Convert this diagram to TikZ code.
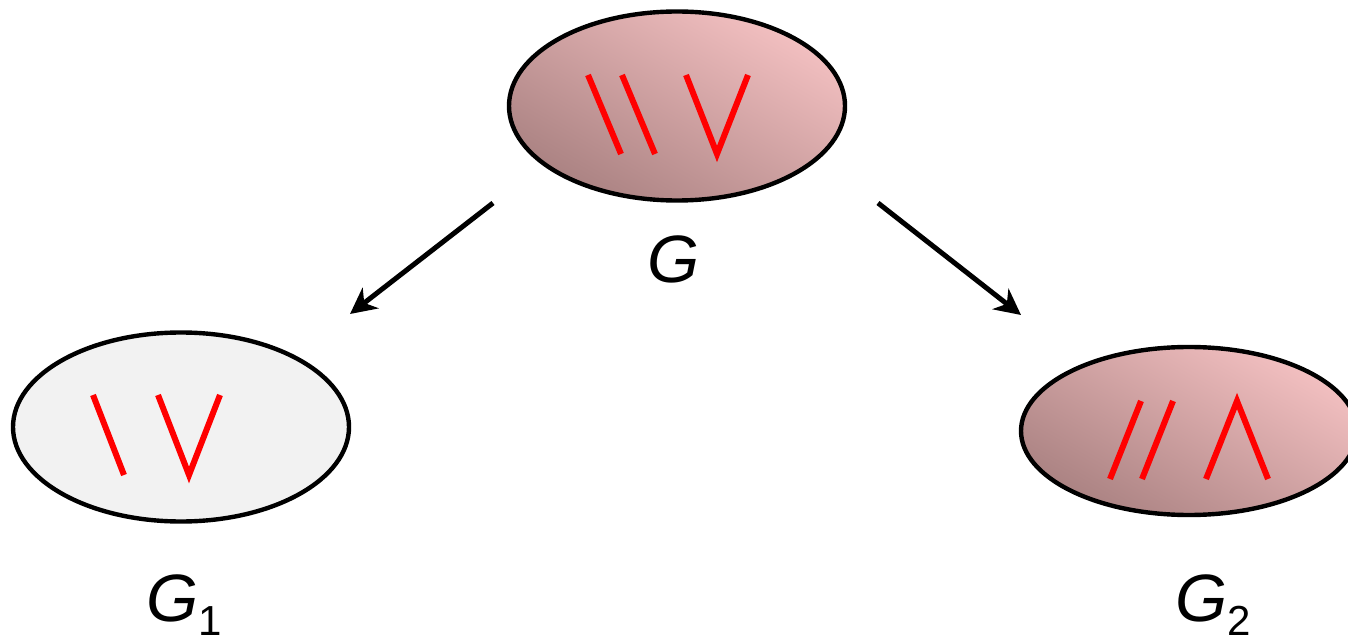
\documentclass[tikz,border=0pt]{standalone}
\usepackage{fontspec}
\setmainfont{Liberation Sans}
\usetikzlibrary{shapes.geometric,arrows.meta}
\definecolor{rosaclar}{RGB}{243,192,193}
\definecolor{rosafosc}{RGB}{170,130,130}
\definecolor{grisclar}{RGB}{242,242,242}

\begin{document}
\begin{tikzpicture}[x=0.5pt, y=-0.5pt,
    conjunt/.style={ellipse, draw=black, line width=2.2pt, minimum width=168pt, minimum height=94.5pt, inner sep=0pt},
    ombrejat/.style={conjunt, top color=rosaclar, bottom color=rosafosc, shading angle=-30},
    traca/.style={red, line width=3pt},
    fletxa/.style={line width=2.5pt, -{Stealth[length=13pt, width=13pt, inset=4pt]}},
    etiqueta/.style={font=\fontsize{33.5}{40}\selectfont\itshape, inner sep=0pt}]

    % 1. MARC DE LA FIGURA
    \useasboundingbox (0,0) rectangle (1348,641);

    % 2. ELS TRES CONJUNTS
    \node[ombrejat] (G) at (677,106) {};
    \node[conjunt, fill=grisclar] (G1) at (181,427) {};
    \node[ombrejat, minimum height=84pt] (G2) at (1189,431) {};

    % 3. TRAÇOS VERMELLS
    \foreach \x in {588,622} \draw[traca] (\x,75) -- ++(33,79);
    \draw[traca] (686,75) -- (717,154) -- (748,75);
    \draw[traca] (93,395) -- ++(31,80);
    \draw[traca] (158,395) -- (189,475) -- (220,395);
    \foreach \x in {1110,1142} \draw[traca] (\x,479) -- ++(31,-78);
    \draw[traca] (1206,479) -- (1237,401) -- (1268,479);

    % 4. ETIQUETES
    \node[etiqueta, anchor=base] (lG) at (674,283) {G};
    \node[etiqueta, anchor=base west] (lG1) at (146,621) {G\raisebox{-7pt}{\upshape\fontsize{21}{25}\selectfont 1}};
    \node[etiqueta, anchor=base west] (lG2) at (1175,621) {G\raisebox{-7pt}{\upshape\fontsize{21}{25}\selectfont 2}};

    % 5. FLETXES
    \coordinate (p1) at (493,203);
    \coordinate (q1) at (350,314);
    \coordinate (p2) at (878,203);
    \coordinate (q2) at (1021,315);
    \draw[fletxa] (p1) -- (q1);
    \draw[fletxa] (p2) -- (q2);

\end{tikzpicture}
\end{document}
